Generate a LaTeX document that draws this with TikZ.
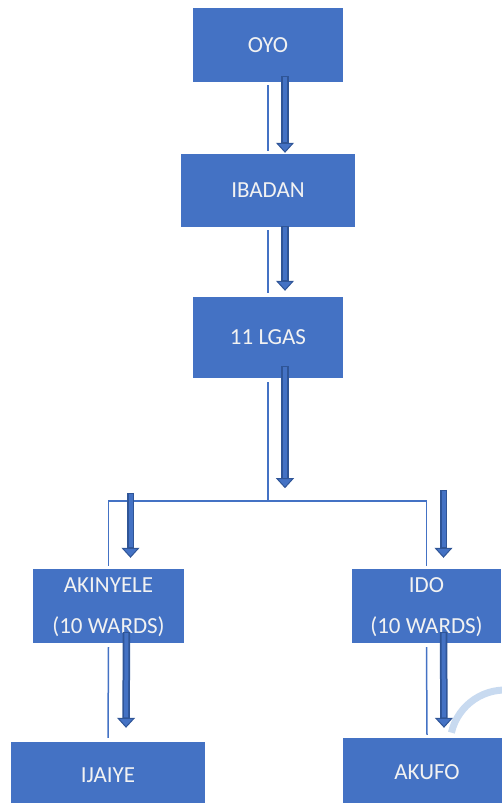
\documentclass[tikz,border=0pt]{standalone}
\usepackage{fontspec}
\setmainfont{Carlito}
\usetikzlibrary{arrows.meta, calc}
\definecolor{boxblue}{RGB}{68, 114, 196}
\definecolor{arrowdark}{RGB}{47, 85, 151}
\definecolor{boxtext}{RGB}{242, 242, 242}
\definecolor{markblue}{RGB}{200, 218, 240}

\begin{document}
\begin{tikzpicture}[x=1pt, y=-1pt,
    unit/.style={fill=boxblue, text=boxtext, inner sep=0pt, align=center,
                 font=\fontsize{23}{28}\selectfont},
    link/.style={boxblue, line width=1.5pt},
    fatarrow/.style={arrowdark, line width=7.5pt,
        -{Triangle[width=18pt, length=10pt, line width=1pt, fill=boxblue]},
        postaction={draw=boxblue, line width=4pt, -,
                    shorten <=1pt, shorten >=10.5pt}}]

    \useasboundingbox (0,0) rectangle (501,803);

    % faint mark behind the bottom right box
    \draw[markblue, line width=7pt] (505,745) ++(193:55) arc (193:280:55);

    % LEVELS
    \node[unit, minimum width=150pt, minimum height=74pt] (oyo) at (268,45) {OYO};
    \node[unit, minimum width=174pt, minimum height=73pt] (ibadan) at (268,190.5) {IBADAN};
    \node[unit, minimum width=150pt, minimum height=81pt] (lgas) at (268,337.5) {11 LGAS};
    \node[unit, minimum width=151pt, minimum height=74pt, text depth=0pt]
        (akinyele) at (108.5,606) {AKINYELE\\[13pt](10 WARDS)};
    \node[unit, minimum width=149pt, minimum height=74pt, text depth=0pt]
        (ido) at (426.5,606) {IDO\\[13pt](10 WARDS)};
    \node[unit, minimum width=194pt, minimum height=66pt] (ijaiye) at (108,775) {IJAIYE};
    \node[unit, minimum width=168pt, minimum height=68pt] (akufo) at (427,772) {AKUFO};

    % OYO -> IBADAN
    \draw[link] ($(oyo.south)+(0,3)$) -- ($(ibadan.north)+(0,-3)$);
    \draw[fatarrow] ($(oyo.south)+(17,-6)$) -- ($(ibadan.north)+(17,-1)$);

    % IBADAN -> 11 LGAS
    \draw[link] ($(ibadan.south)+(0,3)$) -- ($(lgas.north)+(0,-4)$);
    \draw[fatarrow] ($(ibadan.south)+(17,-1)$) -- ($(lgas.north)+(17,-6)$);

    % 11 LGAS -> split
    \coordinate (split) at ($(lgas.south)+(0,123)$);
    \draw[link] ($(lgas.south)+(0,4)$) -- (split);
    \draw[fatarrow] ($(lgas.south)+(17,-12)$) -- ($(split)+(17,-13)$);
    \draw[link] ($(akinyele.north)+(0,-3)$) -- (akinyele.north |- split)
        -- (ido.north |- split) -- ($(ido.north)+(0,-3)$);
    \draw[fatarrow] ($(akinyele.north)+(22,-76)$) -- ($(akinyele.north)+(22,-11)$);
    \draw[fatarrow] ($(ido.north)+(17,-79)$) -- ($(ido.north)+(17,-11)$);

    % WARDS -> towns
    \draw[link] ($(akinyele.south)+(0,4)$) -- ($(ijaiye.north)+(0,-4)$);
    \draw[fatarrow] ($(akinyele.south)+(18,-11)$) -- ($(ijaiye.north)+(18,-14)$);
    \draw[link] ($(ido.south)+(0,4)$) -- ($(akufo.north)+(0,-3)$);
    \draw[fatarrow] ($(ido.south)+(17,-11)$) -- ($(akufo.north)+(17,-10)$);

\end{tikzpicture}
\end{document}
